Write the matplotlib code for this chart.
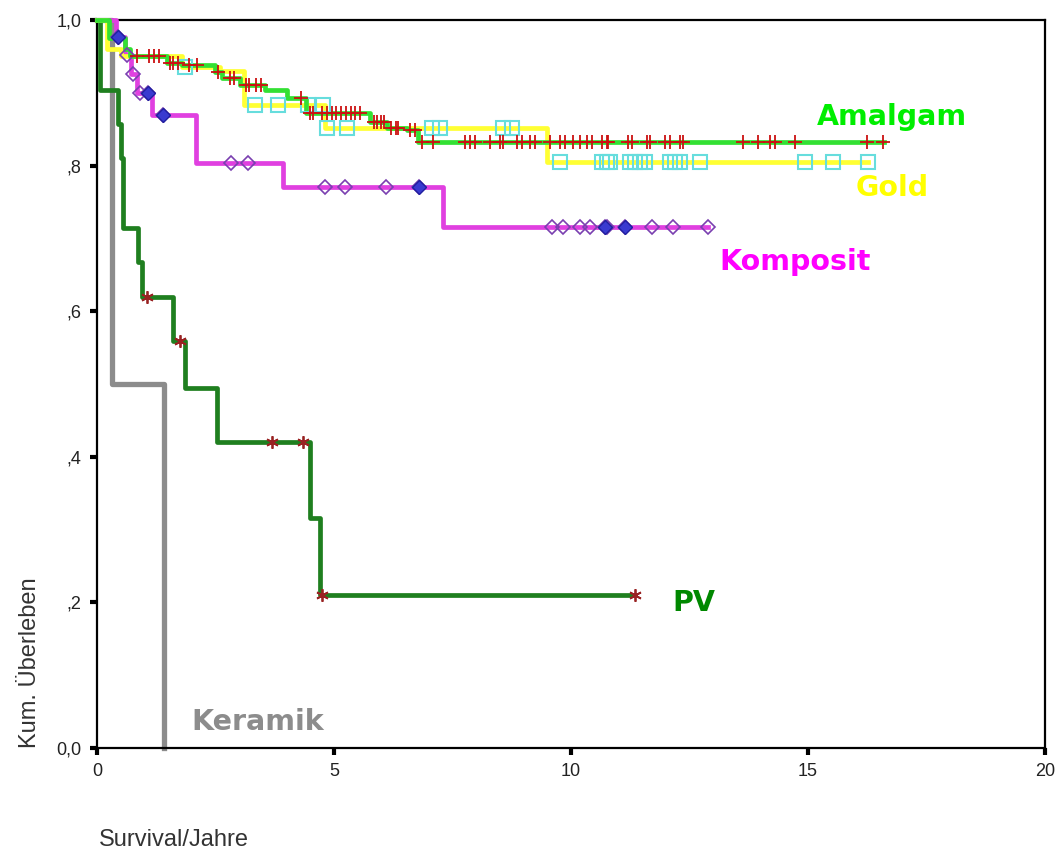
import numpy as np
import matplotlib.pyplot as plt

# Kaplan-Meier steps per group: time (years) where the curve changes, and survival after it
amalgam_t = [0, 0.25, 0.6, 0.7, 1.48, 1.8, 2.49, 2.64, 3.02, 3.54, 4.0, 4.4, 5.76, 6.12, 6.54, 6.77, 16.6]
amalgam_s = [1.0, 0.975, 0.96, 0.95, 0.941, 0.938, 0.929, 0.92, 0.911, 0.904, 0.893, 0.872, 0.86, 0.852, 0.849, 0.832, 0.832]
amalgam_cens = [0.85, 1.1, 1.2, 1.3, 1.55, 1.6, 1.7, 1.95, 2.1, 2.55, 2.8, 2.9, 3.15, 3.2, 3.35, 3.45,
                4.3, 4.5, 4.55, 4.75, 4.85, 4.95, 5.05, 5.15, 5.25, 5.35, 5.45, 5.55, 5.85, 5.9, 6.0, 6.05,
                6.2, 6.3, 6.35, 6.6, 6.7, 6.86, 7.09, 7.76, 7.87, 7.97, 8.29, 8.5, 8.57, 8.86, 8.97, 9.14,
                9.24, 9.56, 9.77, 9.87, 10.04, 10.19, 10.34, 10.44, 10.65, 10.76, 10.78, 11.2, 11.28, 11.6,
                11.66, 11.98, 12.09, 12.3, 12.36, 13.63, 13.95, 14.2, 14.3, 14.73, 16.24, 16.58]

gold_t = [0, 0.2, 0.5, 1.8, 2.6, 3.1, 4.8, 9.5, 16.27]
gold_s = [1.0, 0.96, 0.95, 0.935, 0.93, 0.883, 0.852, 0.805, 0.805]
gold_cens = [1.85, 3.33, 3.82, 4.45, 4.77, 4.85, 5.27, 7.07, 7.24, 8.57, 8.76, 9.77, 10.65, 10.76,
             10.82, 11.24, 11.35, 11.46, 11.56, 12.09, 12.2, 12.3, 12.72, 14.94, 15.53, 16.27]

komposit_t = [0, 0.4, 0.6, 0.72, 0.85, 1.16, 2.09, 3.92, 7.3, 12.89]
komposit_s = [1.0, 0.977, 0.952, 0.926, 0.9, 0.869, 0.803, 0.771, 0.716, 0.716]
komposit_cens = [0.44, 0.63, 0.76, 0.9, 1.07, 1.4, 2.83, 3.19, 4.81, 5.23, 6.1, 6.79, 9.6, 9.83,
                 10.19, 10.4, 10.72, 10.76, 11.14, 11.71, 12.15, 12.89]
komposit_filled = [0.44, 1.07, 1.4, 6.79, 10.72, 11.14]

pv_t = [0, 0.06, 0.45, 0.5, 0.55, 0.87, 0.95, 1.6, 1.86, 2.53, 4.49, 4.7, 11.35]
pv_s = [1.0, 0.904, 0.857, 0.81, 0.714, 0.667, 0.619, 0.559, 0.494, 0.42, 0.316, 0.21, 0.21]
pv_cens = [1.05, 1.75, 3.7, 4.35, 4.75, 11.35]

keramik_t = [0, 0.32, 1.41]
keramik_s = [1.0, 0.5, 0.0]

y_ticks = [0.0, 0.2, 0.4, 0.6, 0.8, 1.0]
y_ticklabels = ['0,0', ',2', ',4', ',6', ',8', '1,0']
x_ticks = [0, 5, 10, 15, 20]


def surv_at(t, times, surv):
    idx = np.searchsorted(times, t, side='right') - 1
    return np.asarray(surv)[idx]


fig = plt.figure(figsize=(10.57, 8.56), dpi=100)
ax = fig.add_axes([0.0918, 0.1262, 0.8968, 0.8504])

lw = 3.4
ax.step(keramik_t, keramik_s, where='post', color='#8c8c8c', lw=3.8, clip_on=False, zorder=2)
ax.step(pv_t, pv_s, where='post', color='#1f7f1f', lw=lw, clip_on=False, zorder=3)
ax.step(komposit_t, komposit_s, where='post', color='#e040e0', lw=lw, clip_on=False, zorder=4)
ax.step(gold_t, gold_s, where='post', color='#ffff33', lw=lw, clip_on=False, zorder=5)
ax.step(amalgam_t, amalgam_s, where='post', color='#33e033', lw=lw, clip_on=False, zorder=6)

# censored observations
ax.plot(pv_cens, surv_at(pv_cens, pv_t, pv_s), ls='none', marker=(6, 2, 0), ms=9,
        mec='#992222', mew=1.3, zorder=7, clip_on=False)
ax.plot(komposit_cens, surv_at(komposit_cens, komposit_t, komposit_s), ls='none', marker='D',
        ms=7, mfc='none', mec='#7a3fb0', mew=1.2, zorder=7, clip_on=False)
ax.plot(komposit_filled, surv_at(komposit_filled, komposit_t, komposit_s), ls='none', marker='D',
        ms=7, mfc='#3a3ad0', mec='#2020a0', mew=1.0, zorder=7, clip_on=False)
ax.plot(gold_cens, surv_at(gold_cens, gold_t, gold_s), ls='none', marker='s', ms=10,
        mfc='none', mec='#66dddd', mew=1.5, zorder=7, clip_on=False)
ax.plot(amalgam_cens, surv_at(amalgam_cens, amalgam_t, amalgam_s), ls='none', marker='+',
        ms=10, mec='#cc1111', mew=1.3, zorder=8, clip_on=False)

# group labels
lab = dict(fontsize=20.5, fontweight='bold', va='center', ha='left', family='DejaVu Sans')
ax.text(15.19, 0.867, 'Amalgam', color='#00ee00', **lab)
ax.text(16.0, 0.769, 'Gold', color='#ffff00', **lab)
ax.text(13.14, 0.668, 'Komposit', color='#ff00ff', **lab)
ax.text(12.13, 0.199, 'PV', color='#008800', **lab)
ax.text(2.0, 0.036, 'Keramik', color='#8c8c8c', **lab)

ax.set_xlim(0, 20)
ax.set_ylim(0, 1)
ax.set_xticks(x_ticks)
ax.set_yticks(y_ticks)
ax.set_yticklabels(y_ticklabels)
tick_font = ['Liberation Sans Narrow', 'Liberation Sans', 'DejaVu Sans']
for t in ax.get_xticklabels() + ax.get_yticklabels():
    t.set_family(tick_font)
    t.set_fontsize(13)
    t.set_color('#222222')
ax.tick_params(direction='out', length=5, width=3, pad=6)
for sp in ax.spines.values():
    sp.set_linewidth(1.6)

fig.text(0.018, 0.126, 'Kum. Überleben', rotation=90, ha='left', va='bottom',
         fontsize=17, family=tick_font, color='#333333')
fig.text(0.094, 0.006, 'Survival/Jahre', ha='left', va='bottom', fontsize=17,
         family=tick_font, color='#333333')

fig.savefig('out.png', dpi=100)
